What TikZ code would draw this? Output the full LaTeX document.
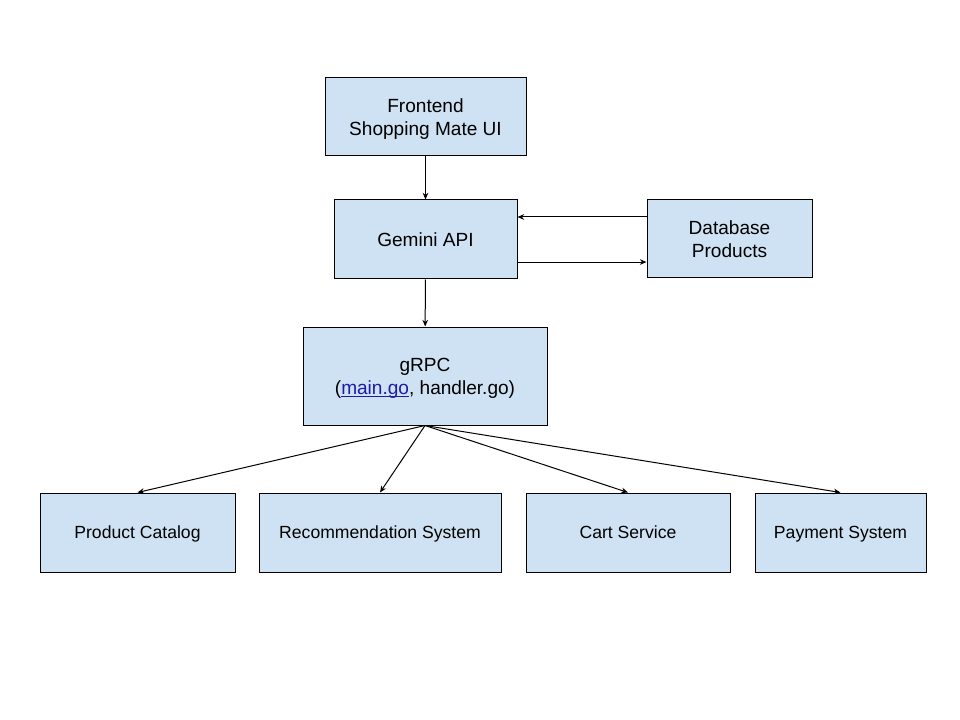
\documentclass[tikz,border=0pt]{standalone}
\usepackage{fontspec}
\setmainfont{Liberation Sans}
\usetikzlibrary{arrows.meta}
\definecolor{boxblue}{HTML}{CFE2F3}
\definecolor{linkblue}{HTML}{1C1CA8}
\newcommand\linkul[1]{\textcolor{linkblue}{\setbox0\hbox{#1}\rlap{\rule[-1.7pt]{\wd0}{0.7pt}}\box0}}
\begin{document}
\begin{tikzpicture}[x=0.75pt,y=-0.75pt,
  box/.style={draw,fill=boxblue,line width=0.75pt,align=center,inner sep=0pt,
    font=\fontsize{14.3}{17.2}\selectfont,text height=10.24pt,text depth=0pt},
  twoline/.style={box,text height=27.44pt},
  lowbox/.style={box,minimum height=59.25pt,font=\fontsize{13.2}{16}\selectfont,text height=9.45pt},
  arr/.style={line width=0.75pt,-{Stealth[length=5pt,width=4.2pt]}}]
\useasboundingbox (0,0) rectangle (960,720);
\node[twoline,minimum width=150.75pt,minimum height=58.5pt] (front) at (425.5,117) {Frontend\\Shopping Mate UI};
\node[box,minimum width=137.25pt,minimum height=59.25pt] (gem) at (425.5,239.5) {Gemini API};
\node[twoline,minimum width=123.75pt,minimum height=58.5pt] (db) at (729.5,239) {Database\\Products};
\node[twoline,minimum width=183pt,minimum height=73.5pt] (grpc) at (425,376) {gRPC\\(\linkul{main.go}, handler.go)};
\node[lowbox,minimum width=146.25pt] (cat) at (137.5,532.5) {Product Catalog};
\node[lowbox,minimum width=181.5pt] (rec) at (380,532.5) {Recommendation System};
\node[lowbox,minimum width=153pt] (cart) at (628,532.5) {Cart Service};
\node[lowbox,minimum width=128.25pt] (pay) at (840.5,532.5) {Payment System};
% connectors
\coordinate (dbin) at ([yshift=16.5pt]db.west);
\coordinate (gemout) at ([yshift=-16.9pt]gem.east);
\draw[arr] (front) -- (gem);
\draw[arr] (dbin) -- (dbin -| gem.east);
\draw[arr] (gemout) -- (gemout -| db.west);
\draw[arr] (gem) -- (grpc);
\draw[arr] (grpc.south) -- (cat.north);
\draw[arr] (grpc.south) -- (rec.north);
\draw[arr] (grpc.south) -- (cart.north);
\draw[arr] (grpc.south) -- (pay.north);
\end{tikzpicture}
\end{document}
